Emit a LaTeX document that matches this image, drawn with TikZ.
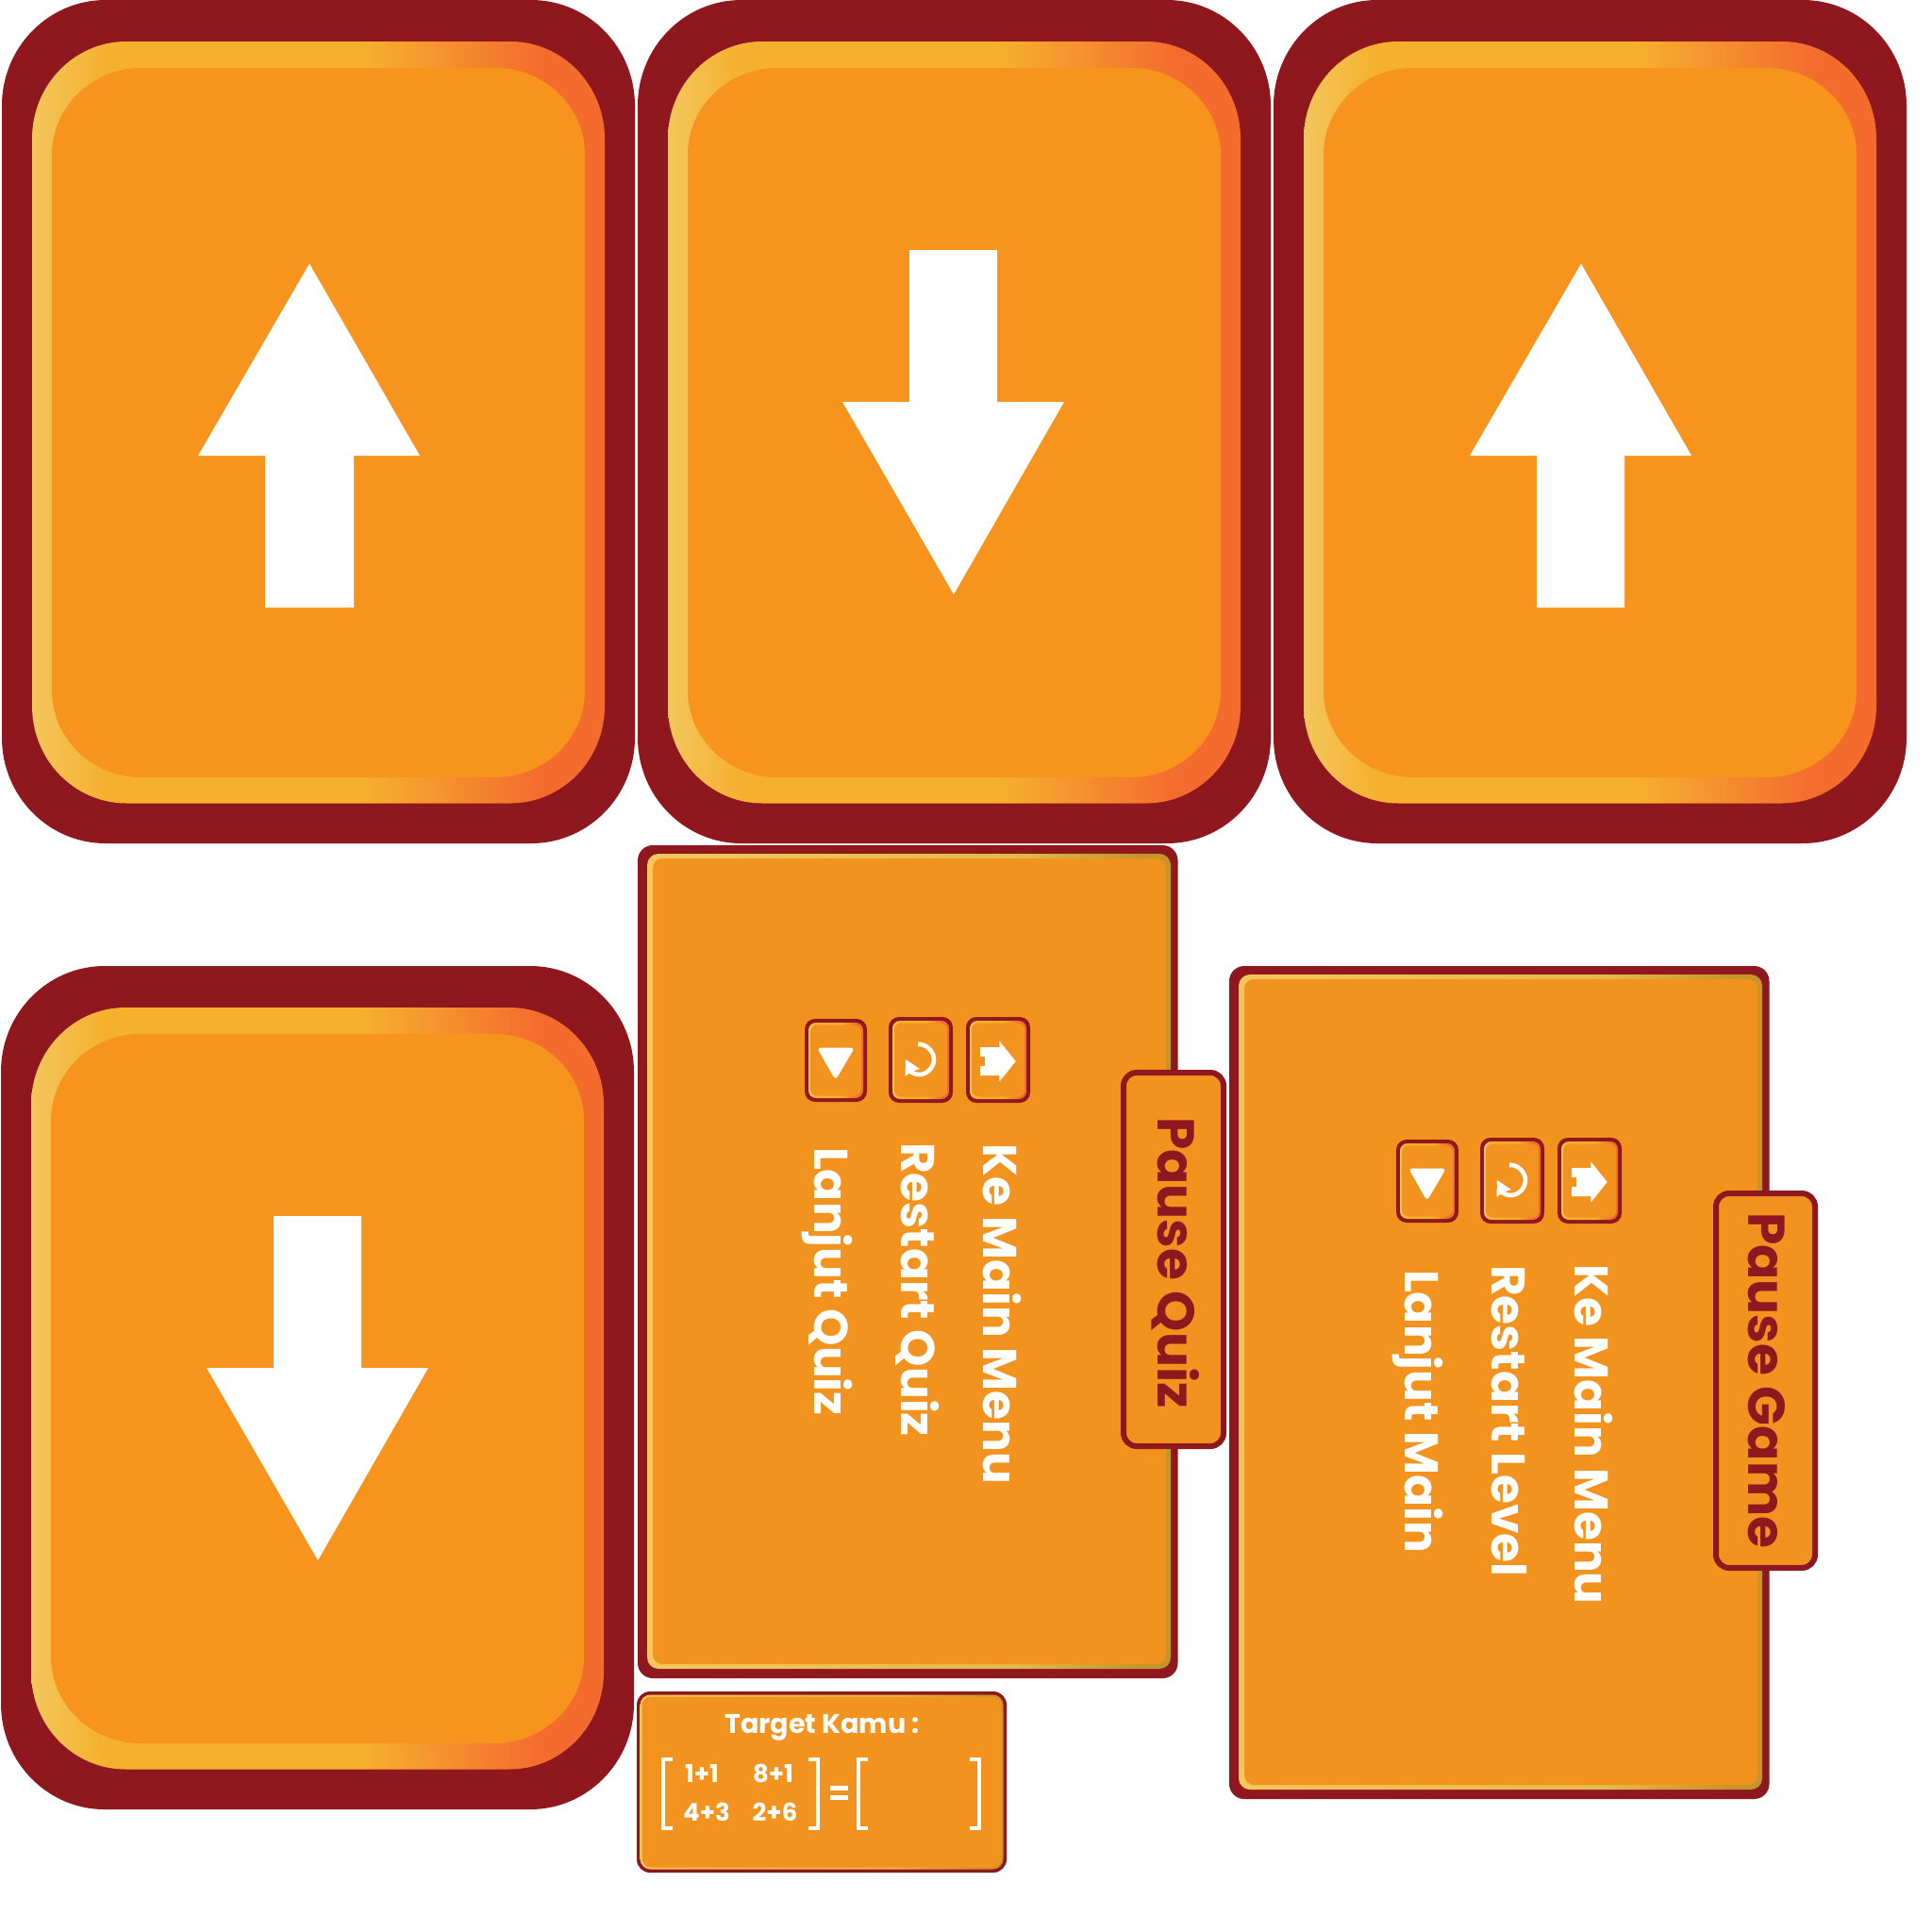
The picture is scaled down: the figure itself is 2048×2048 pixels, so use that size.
\documentclass[tikz,border=0pt]{standalone}
\usepackage{fontspec}
\setmainfont{Poppins}
\definecolor{dred}{HTML}{8F181E}
\definecolor{corange}{HTML}{F7941D}
\definecolor{porange}{HTML}{F3931F}
\definecolor{ryel}{HTML}{F4C65C}
\definecolor{rmid}{HTML}{F5B02E}
\definecolor{rred}{HTML}{F46B2E}
\definecolor{pyel}{HTML}{E6B94C}
\definecolor{polive}{HTML}{C4952A}
\pgfdeclarehorizontalshading{ringsh}{100bp}{color(0bp)=(ryel); color(25bp)=(ryel); color(31.5bp)=(rmid); color(54bp)=(rmid); color(69.5bp)=(rred); color(75bp)=(rred); color(100bp)=(rred)}
\pgfdeclarehorizontalshading{panelsh}{100bp}{color(0bp)=(ryel); color(25bp)=(ryel); color(60bp)=(pyel); color(72bp)=(polive); color(75bp)=(polive); color(100bp)=(polive)}
\newcommand\rbox[7]{\path[#1] ({#2+#6},#3) -- ({#4-#6},#3) .. controls ({#4-0.4477*#6},#3) and (#4,{#3+0.4477*#7}) .. (#4,{#3+#7}) -- (#4,{#5-#7}) .. controls (#4,{#5-0.4477*#7}) and ({#4-0.4477*#6},#5) .. ({#4-#6},#5) -- ({#2+#6},#5) .. controls ({#2+0.4477*#6},#5) and (#2,{#5-0.4477*#7}) .. (#2,{#5-#7}) -- (#2,{#3+#7}) .. controls (#2,{#3+0.4477*#7}) and ({#2+0.4477*#6},#3) .. ({#2+#6},#3) -- cycle;}
\newcommand\cardbase{%
  \rbox{fill=dred}{2}{0}{673}{894}{110}{112}
  \rbox{shading=ringsh}{34}{44}{641}{851.5}{100}{103}
  \rbox{fill=corange}{55}{72}{620}{824}{95}{92}}
\newcommand\btn[4]{%
  \rbox{fill=dred}{#1}{#2}{#3}{#4}{11}{11}
  \rbox{shading=ringsh}{#1+4}{#2+4}{#3-4}{#4-4}{8}{8}
  \rbox{fill=porange}{#1+6}{#2+6.5}{#3-6}{#4-6.5}{7}{7}}
\newcommand\icons{%
  \btn{853}{1080}{919}{1168}
  \btn{942}{1078}{1010}{1169}
  \btn{1024}{1078}{1092}{1169}
  \fill[white,rounded corners=4pt] (866,1110.5) -- (906,1110.5) -- (885.7,1145) -- cycle;
  \draw[white,line width=4.6pt] (973,1107) .. controls (981,1106) and (990,1114) .. (990,1123) .. controls (990,1132) and (982,1139) .. (975,1139) .. controls (971,1139) and (968,1138) .. (965,1136);
  \fill[white] (960,1123) -- (975,1133) -- (966,1136) -- (959.5,1141) -- cycle;
  \fill[white] (1039,1110) -- (1059.3,1110) -- (1059.3,1103.3) -- (1076.7,1125) -- (1059.3,1146.7) -- (1059.3,1140) -- (1039,1140) -- (1039,1130) -- (1044,1130) -- (1044,1120) -- (1039,1120) -- cycle;}
\newcommand\panelbase{%
  \rbox{fill=dred}{676}{896}{1248.5}{1779}{16}{16}
  \rbox{shading=panelsh}{686}{905}{1241}{1769}{12}{12}
  \rbox{fill=porange}{692}{910}{1236}{1764}{10}{10}}
\tikzset{
  lab/.style={inner sep=0pt,outer sep=0pt,anchor=base west,rotate=-90,text=white,font=\fontsize{50.2}{50}\selectfont\bfseries},
  tablab/.style={lab,text=dred,font=\fontsize{55}{55}\selectfont\bfseries},
  tabbox/.style={draw=dred,line width=6pt,fill=porange},
  flat/.style={inner sep=0pt,outer sep=0pt,anchor=base,text=white},
  brk/.style={draw=white,line width=4.2pt,line cap=butt}
}
\begin{document}
\begin{tikzpicture}[x=1pt,y=-1pt]
\useasboundingbox (0,0) rectangle (2048,2048);
\fill[white] (0,0) rectangle (2048,2048);
% cards
\cardbase
\fill[white] (328,279.5) -- (445,483) -- (375,483) -- (375,644) -- (281,644) -- (281,483) -- (210,483) -- cycle;
\begin{scope}[shift={(674,0)}]\cardbase\end{scope}
\fill[white] (964,265) -- (1057,265) -- (1057,426) -- (1128,426) -- (1011,630) -- (893,426) -- (964,426) -- cycle;
\begin{scope}[shift={(1348,0)}]\cardbase\end{scope}
\fill[white] (1676,279.5) -- (1793,483) -- (1722,483) -- (1722,644) -- (1629,644) -- (1629,483) -- (1558,483) -- cycle;
\begin{scope}[shift={(-1,1024)}]\cardbase\end{scope}
\fill[white] (290,1289) -- (383,1289) -- (383,1450) -- (454,1450) -- (337,1654) -- (219,1450) -- (290,1450) -- cycle;
% Pause Quiz panel
\panelbase
\icons
\rbox{tabbox}{1191}{1137}{1297}{1533}{14}{14}
\node[tablab] (pq) at (1227,1184) {Pause Quiz};
\node[lab] (q1) at (1042,1212.5) {Ke Main Menu};
\node[lab] (q2) at (955,1211) {Restart Quiz};
\node[lab] (q3) at (863,1216) {Lanjut Quiz};
% Pause Game panel
\begin{scope}[shift={(627,128)}]\panelbase\icons\end{scope}
\rbox{tabbox}{1819}{1265}{1924}{1662}{14}{14}
\node[tablab] (pg) at (1853.5,1285) {Pause Game};
\node[lab] (g1) at (1669,1340) {Ke Main Menu};
\node[lab] (g2) at (1581.5,1341) {Restart Level};
\node[lab] (g3) at (1489,1346) {Lanjut Main};
% Target panel
\rbox{fill=dred}{675}{1793}{1067}{1985}{14}{14}
\rbox{shading=panelsh}{678.5}{1796.5}{1063.5}{1981.5}{11}{11}
\rbox{fill=porange}{680.5}{1798.5}{1061.5}{1979.5}{10}{10}
\node[flat,font=\fontsize{28.6}{29}\selectfont\bfseries] (tk) at (871.5,1837) {Target Kamu :};
\node[flat,font=\fontsize{26}{26}\selectfont\bfseries] (m11) at (744,1889) {1+1};
\node[flat,font=\fontsize{26}{26}\selectfont\bfseries] (m12) at (819.5,1889) {8+1};
\node[flat,font=\fontsize{26}{26}\selectfont\bfseries] (m21) at (749,1930) {4+3};
\node[flat,font=\fontsize{26}{26}\selectfont\bfseries] (m22) at (821.5,1930) {2+6};
\draw[brk] (712.7,1865) -- (703,1865) -- (703,1938) -- (712.7,1938);
\draw[brk] (857,1865) -- (867,1865) -- (867,1938) -- (857,1938);
\draw[brk] (919.7,1865) -- (910,1865) -- (910,1938) -- (919.7,1938);
\draw[brk] (1028,1865) -- (1038,1865) -- (1038,1938) -- (1028,1938);
\fill[white] (880,1893) rectangle (899,1897.5);
\fill[white] (880,1903) rectangle (899,1907.5);
\end{tikzpicture}
\end{document}
